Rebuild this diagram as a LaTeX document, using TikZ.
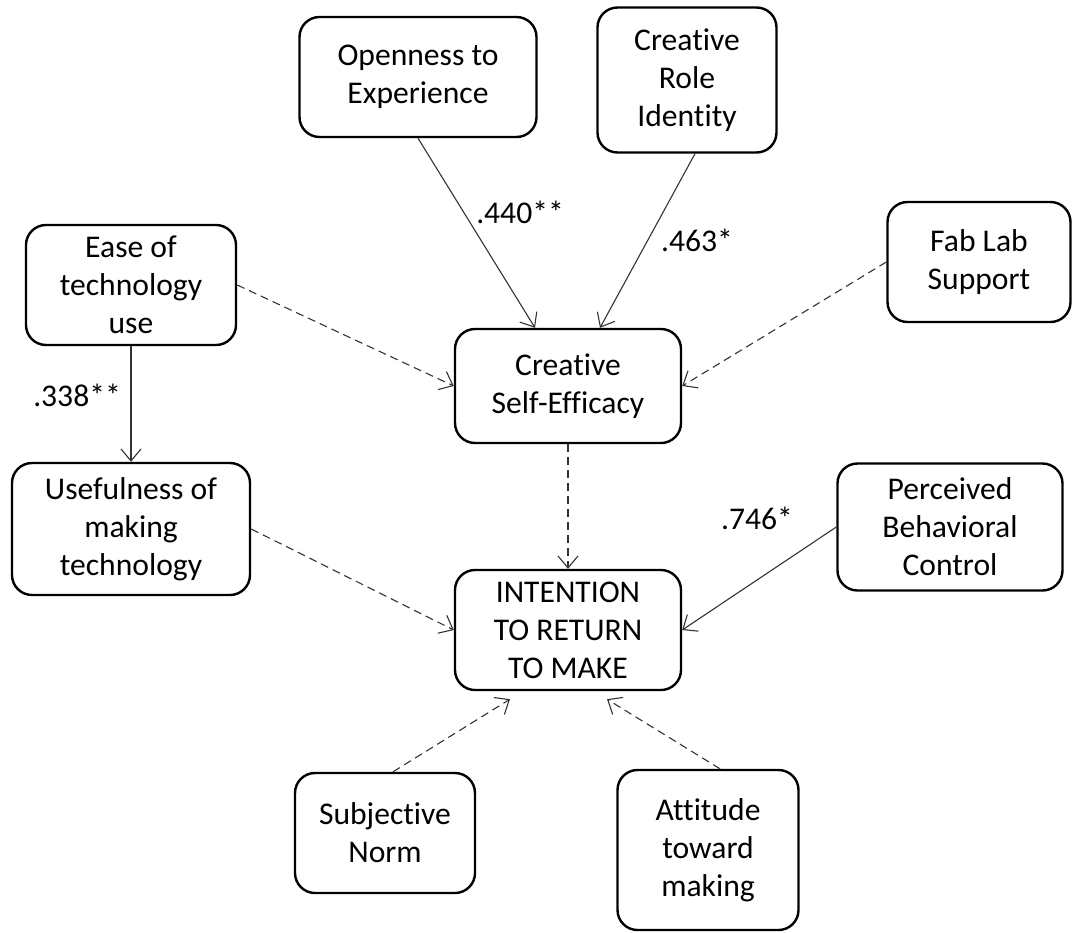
\documentclass[tikz,border=0pt]{standalone}
\usepackage{fontspec}
\setmainfont{Carlito}[Ligatures={NoCommon}]
\usepackage{tikz}
\usetikzlibrary{arrows.meta,positioning}
\tikzset{
	factor/.style={draw, line width=1.2pt, rounded corners=10pt, inner sep=0pt, align=center, font=\fontsize{15.8}{19}\selectfont},
	sig/.style={draw=black!80, line width=0.55pt, -{Straight Barb[length=6pt,width=10pt]}},
	nonsig/.style={sig, dash pattern=on 4pt off 2.5pt},
	coef/.style={inner sep=0pt, font=\fontsize{15.8}{19}\selectfont}
}
\newcommand{\linkfactors}[3]{
	\draw[#1] (#2) -- (#3);
}
\begin{document}
\begin{tikzpicture}[x=0.5pt, y=-0.5pt]
	\useasboundingbox (0,0) rectangle (1076,932);

	% predictors of creative self-efficacy
	\node[factor, minimum width=118.5pt, minimum height=60pt] (open) at (418,77) {Openness to\\Experience};
	\node[factor, minimum width=89.5pt, minimum height=72.5pt] (role) at (687,80) {Creative\\Role\\Identity};
	\node[factor, minimum width=105pt, minimum height=60pt] (ease) at (131,285) {Ease of\\technology\\use};
	\node[factor, minimum width=91.5pt, minimum height=60pt] (fab) at (979,262) {Fab Lab\\Support};

	\node[factor, minimum width=113pt, minimum height=57pt] (cse) at (568,386) {Creative\\Self-Efficacy};

	% predictors of intention
	\node[factor, minimum width=119pt, minimum height=66pt] (useful) at (131,529) {Usefulness of\\making\\technology};
	\node[factor, minimum width=112.5pt, minimum height=63.5pt] (pbc) at (950,527) {Perceived\\Behavioral\\Control};
	\node[factor, minimum width=90pt, minimum height=60pt] (norm) at (385,833) {Subjective\\Norm};
	\node[factor, minimum width=90.5pt, minimum height=80pt] (att) at (708,850) {Attitude\\toward\\making};

	\node[factor, minimum width=113pt, minimum height=60pt] (intent) at (568,630) {INTENTION\\TO RETURN\\TO MAKE};

	\linkfactors{sig}{open.south}{[xshift=-16.5pt]cse.north}
	\linkfactors{sig}{[xshift=4pt]role.south}{[xshift=16pt]cse.north}
	\linkfactors{nonsig}{ease.east}{cse.west}
	\linkfactors{nonsig}{fab.west}{cse.east}
	\linkfactors{sig}{ease.south}{useful.north}
	\linkfactors{nonsig}{cse.south}{intent.north}
	\linkfactors{nonsig}{useful.east}{intent.west}
	\linkfactors{sig}{pbc.west}{intent.east}
	\linkfactors{nonsig}{[xshift=4pt]norm.north}{[xshift=-29pt, yshift=-4pt]intent.south}
	\linkfactors{nonsig}{[xshift=6pt]att.north}{[xshift=19.5pt, yshift=-4pt]intent.south}

	% path coefficients
	\node[coef] (c-open) at (520,212) {.440**};
	\node[coef] (c-role) at (697,240) {.463*};
	\node[coef] (c-ease) at (77,395) {.338**};
	\node[coef] (c-pbc) at (757,518) {.746*};
\end{tikzpicture}
\end{document}
